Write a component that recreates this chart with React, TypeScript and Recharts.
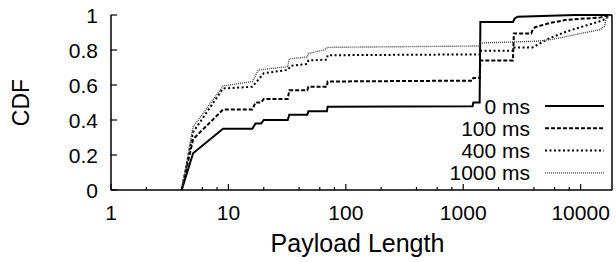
import { Legend, Line, LineChart, XAxis, YAxis } from "recharts";

// payload length (bytes) vs CDF
const ZERO_MS: [number, number][] = [
  [4, 0], [5, 0.21], [9, 0.35], [16, 0.35], [17, 0.38], [19, 0.38],
  [20, 0.4], [32, 0.4], [33, 0.43], [47, 0.43], [48, 0.45], [69, 0.45],
  [70, 0.476], [1200, 0.478], [1220, 0.5], [1380, 0.5], [1400, 0.96],
  [2650, 0.96], [2750, 0.98], [2900, 0.99], [9000, 1], [18500, 1],
];
const HUNDRED_MS: [number, number][] = [
  [4, 0], [5, 0.29], [9, 0.46], [16, 0.46], [17, 0.5], [19, 0.5],
  [20, 0.52], [32, 0.52], [33, 0.57], [47, 0.57], [48, 0.59], [69, 0.59],
  [70, 0.62], [1200, 0.625], [1220, 0.64], [1380, 0.64], [1400, 0.74],
  [2650, 0.74], [2700, 0.895], [3800, 0.895], [3900, 0.916], [4100, 0.93],
  [5500, 0.955], [7700, 0.973], [14600, 0.985], [17500, 1], [18500, 1],
];
const FOUR_HUNDRED_MS: [number, number][] = [
  [4, 0], [5, 0.33], [9, 0.58], [16, 0.59], [20, 0.667], [32, 0.686],
  [34, 0.71], [47, 0.72], [48, 0.74], [69, 0.745], [70, 0.77],
  [1380, 0.775], [1400, 0.796], [2650, 0.796], [2700, 0.815], [3900, 0.815],
  [5500, 0.869], [7700, 0.907], [10500, 0.935], [14600, 0.964],
  [16500, 0.98], [17500, 1], [18500, 1],
];
const THOUSAND_MS: [number, number][] = [
  [4, 0], [5, 0.36], [9, 0.594], [16, 0.62], [18, 0.686], [32, 0.705],
  [33, 0.75], [47, 0.76], [48, 0.78], [65, 0.8], [70, 0.815],
  [1380, 0.823], [1400, 0.84], [4200, 0.85], [5500, 0.859], [7700, 0.878],
  [10500, 0.897], [14600, 0.916], [16000, 0.937], [16500, 0.98],
  [17500, 1], [18500, 1],
];

const SERIES_NAMES = ["0 ms", "100 ms", "400 ms", "1000 ms"];
const SERIES_DATA = [ZERO_MS, HUNDRED_MS, FOUR_HUNDRED_MS, THOUSAND_MS];

const X_MAJOR = [1, 10, 100, 1000, 10000];
const X_TICKS = [
  1, 2, 4, 6, 8, 10, 20, 40, 60, 80, 100, 200, 400, 600, 800, 1000, 2000,
  4000, 6000, 8000, 10000,
];
const Y_TICKS = [0, 0.2, 0.4, 0.6, 0.8, 1];

const STYLES = [
  { stroke: "#000", width: 2, dash: undefined },
  { stroke: "#000", width: 2, dash: "4 2" },
  { stroke: "#000", width: 2, dash: "2 2.5" },
  { stroke: "#444", width: 1.4, dash: "1 1" },
];

const FONT = "'Liberation Sans', Arial, Helvetica, sans-serif";
const TICK_FONT = 21;

function BottomTick({ x, y, payload }: any) {
  const major = X_MAJOR.includes(payload.value);
  return (
    <g>
      <line x1={x} x2={x} y1={y} y2={y - (major ? 6 : 3)} stroke="#000" strokeWidth={1.2} />
      {major && (
        <text x={x} y={y + 22} textAnchor="middle" dominantBaseline="central" fontSize={TICK_FONT} fill="#000">
          {payload.value}
        </text>
      )}
    </g>
  );
}

function TopTick({ x, y, payload }: any) {
  const major = X_MAJOR.includes(payload.value);
  return <line x1={x} x2={x} y1={y} y2={y + (major ? 6 : 3)} stroke="#000" strokeWidth={1.2} />;
}

function LeftTick({ x, y, payload }: any) {
  return (
    <g>
      <line x1={x} x2={x + 6} y1={y} y2={y} stroke="#000" strokeWidth={1.2} />
      <text x={x - 13} y={y} textAnchor="end" dominantBaseline="central" fontSize={TICK_FONT} fill="#000">
        {String(payload.value)}
      </text>
    </g>
  );
}

function RightTick({ x, y }: any) {
  return <line x1={x} x2={x - 6} y1={y} y2={y} stroke="#000" strokeWidth={1.2} />;
}

function LegendBox() {
  return (
    <svg width={616} height={262} style={{ position: "absolute", left: 0, top: 0 }}>
      {SERIES_NAMES.map((name, i) => {
        const y = 106 + i * 22.3;
        const s = STYLES[i];
        return (
          <g key={name}>
            <text x={530} y={y} textAnchor="end" dominantBaseline="central" fontSize={TICK_FONT} fill="#000" fontFamily={FONT}>
              {name}
            </text>
            <line x1={545} x2={604} y1={y} y2={y} stroke={s.stroke} strokeWidth={s.width} strokeDasharray={s.dash} />
          </g>
        );
      })}
    </svg>
  );
}

export default function App() {
  return (
    <div style={{ position: "absolute", left: 0, top: 0, width: 616, height: 262, background: "#fff", fontFamily: FONT }}>
      <LineChart width={616} height={262} margin={{ top: 15, right: 0, bottom: 0, left: 0 }}>
        <XAxis
          type="number"
          dataKey="len"
          scale="log"
          domain={[1, 18500]}
          allowDataOverflow
          ticks={X_TICKS}
          interval={0}
          height={72}
          tickSize={0}
          tickMargin={0}
          tick={<BottomTick />}
          axisLine={{ stroke: "#000", strokeWidth: 1.5 }}
          label={({ viewBox }: any) => (
            <text
              x={viewBox.x + viewBox.width / 2 - 4}
              y={viewBox.y + 53}
              textAnchor="middle"
              dominantBaseline="central"
              fontSize={25}
              fill="#000"
            >
              Payload Length
            </text>
          )}
        />
        <XAxis
          xAxisId="top"
          orientation="top"
          type="number"
          dataKey="len"
          scale="log"
          domain={[1, 18500]}
          allowDataOverflow
          ticks={X_TICKS}
          interval={0}
          height={0}
          tickSize={0}
          tickMargin={0}
          tick={<TopTick />}
          axisLine={{ stroke: "#000", strokeWidth: 1.5 }}
        />
        <YAxis
          type="number"
          domain={[0, 1]}
          ticks={Y_TICKS}
          interval={0}
          width={111}
          tickSize={0}
          tickMargin={0}
          tick={<LeftTick />}
          axisLine={{ stroke: "#000", strokeWidth: 1.5 }}
          label={({ viewBox }: any) => (
            <text
              x={21}
              y={viewBox.y + viewBox.height / 2}
              transform={`rotate(-90, 21, ${viewBox.y + viewBox.height / 2})`}
              textAnchor="middle"
              dominantBaseline="central"
              fontSize={23}
              fill="#000"
            >
              CDF
            </text>
          )}
        />
        <YAxis
          yAxisId="right"
          orientation="right"
          type="number"
          domain={[0, 1]}
          ticks={Y_TICKS}
          interval={0}
          width={4}
          tickSize={0}
          tickMargin={0}
          tick={<RightTick />}
          axisLine={{ stroke: "#000", strokeWidth: 1.5 }}
        />
        {SERIES_DATA.map((series, i) => (
          <Line
            key={SERIES_NAMES[i]}
            name={SERIES_NAMES[i]}
            data={series.map(([len, cdf]) => ({ len, cdf }))}
            dataKey="cdf"
            type="linear"
            stroke={STYLES[i].stroke}
            strokeWidth={STYLES[i].width}
            strokeDasharray={STYLES[i].dash}
            dot={false}
            activeDot={false}
            isAnimationActive={false}
          />
        ))}
        <Legend
          layout="horizontal"
          verticalAlign="middle"
          align="center"
          wrapperStyle={{ left: 0, top: 0, width: 616, height: 262, pointerEvents: "none" }}
          content={() => <LegendBox />}
        />
      </LineChart>
    </div>
  );
}
